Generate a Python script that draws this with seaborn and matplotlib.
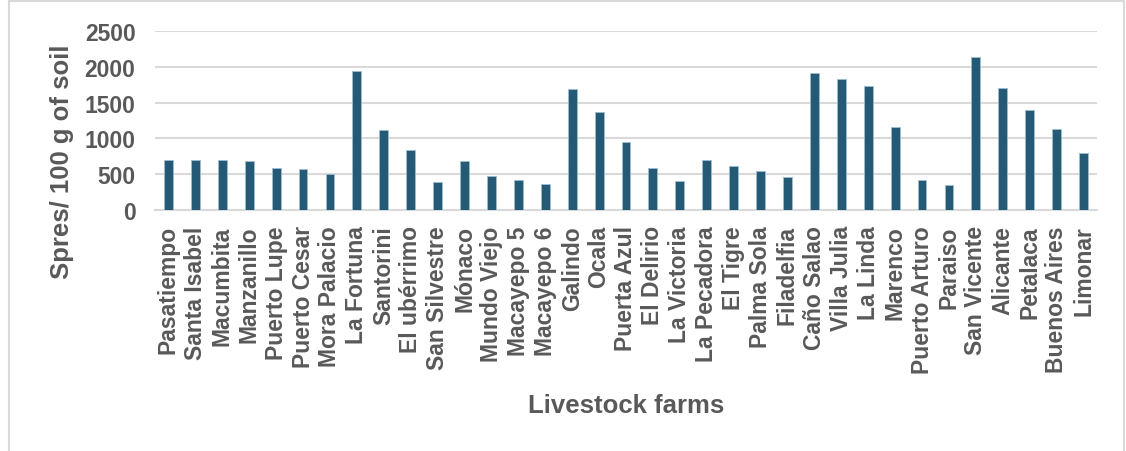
import pandas as pd
import matplotlib.pyplot as plt
import seaborn as sns
from matplotlib.patches import Rectangle

# datos
farms = ['Pasatiempo', 'Santa Isabel', 'Macumbita', 'Manzanillo', 'Puerto Lupe',
         'Puerto Cesar', 'Mora Palacio', 'La Fortuna', 'Santorini', 'El ubérrimo',
         'San Silvestre', 'Mónaco', 'Mundo Viejo', 'Macayepo 5', 'Macayepo 6',
         'Galindo', 'Ocala', 'Puerta Azul', 'El Delirio', 'La Victoria',
         'La Pecadora', 'El Tigre', 'Palma Sola', 'Filadelfia', 'Caño Salao',
         'Villa Julia', 'La Linda', 'Marenco', 'Puerto Arturo', 'Paraiso',
         'San Vicente', 'Alicante', 'Petalaca', 'Buenos Aires', 'Limonar']
spores = [700, 700, 695, 685, 590, 570, 507, 1946, 1122, 834,
          391, 684, 475, 419, 363, 1686, 1369, 950, 582, 405,
          698, 619, 540, 456, 1918, 1830, 1728, 1155, 419, 349,
          2133, 1700, 1397, 1136, 796]
yticks = [0, 500, 1000, 1500, 2000, 2500]

df = pd.DataFrame({'farm': farms, 'spores': spores})

sns.set_theme(style="white")
plt.rcParams['font.family'] = ['Liberation Sans', 'DejaVu Sans']
plt.rcParams['font.weight'] = 'bold'
txt = '#595959'

fig = plt.figure(figsize=(11.26, 4.52), dpi=100)
ax = fig.add_axes([155 / 1126, 1 - 211 / 452, (1097 - 155) / 1126, (211 - 32) / 452])

sns.barplot(data=df, x='farm', y='spores', color='#175E84', width=0.33,
            edgecolor='#9dbdd0', linewidth=0.6, ax=ax, zorder=3)

ax.set_ylim(0, 2500)
ax.set_xlim(-0.5, len(farms) - 0.5)
ax.set_yticks(yticks)
ax.yaxis.grid(True, color='#d9d9d9', linewidth=1.5, zorder=0)
ax.set_axisbelow(True)
for s in ['top', 'right', 'left']:
    ax.spines[s].set_visible(False)
ax.spines['bottom'].set_color('#d9d9d9')
ax.spines['bottom'].set_linewidth(1.5)

ax.tick_params(axis='y', length=0, pad=14, labelsize=16.5, labelcolor=txt)
ax.tick_params(axis='x', length=0, pad=11, labelsize=16.5, labelcolor=txt, rotation=90)
for lab in ax.get_xticklabels() + ax.get_yticklabels():
    lab.set_fontweight('bold')

ax.set_xlabel('')
ax.set_ylabel('')
fig.text(62 / 1126, 1 - 162 / 452, 'Spres/ 100 g of soil', rotation=90, ha='center',
         va='center', fontsize=18.5, fontweight='bold', color=txt)
fig.text(626 / 1126, 1 - 406 / 452, 'Livestock farms', ha='center', va='center',
         fontsize=18.5, fontweight='bold', color=txt)

fig.add_artist(Rectangle((9 / 1126, -0.02), (1124 - 9) / 1126, 1 - 2 / 452 + 0.02,
                         transform=fig.transFigure, fill=False,
                         edgecolor='#d9d9d9', linewidth=1.5))

plt.savefig('out.png', dpi=100)
